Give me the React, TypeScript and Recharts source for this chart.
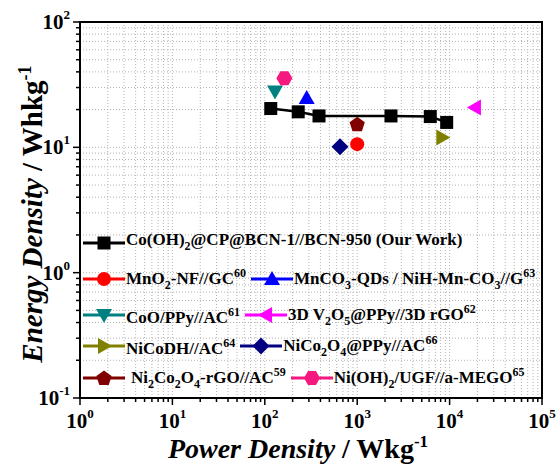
import React from 'react';
import { ScatterChart, Scatter, XAxis, YAxis, CartesianGrid, ReferenceArea, Legend } from 'recharts';

// ---------- data ----------
const ourPower = [116, 230, 386, 2320, 6180, 9300];
const ourEnergy = [20.4, 19.2, 17.8, 17.8, 17.6, 15.8];

const mno2Power = [1000];
const mno2Energy = [10.6];
const mnco3Power = [284];
const mnco3Energy = [24.8];
const cooPower = [129];
const cooEnergy = [27.9];
const v2o5Power = [18800];
const v2o5Energy = [20.8];
const nicodhPower = [8340];
const nicodhEnergy = [12];
const nico2o4Power = [651];
const nico2o4Energy = [10.1];
const ni2co2o4Power = [1000];
const ni2co2o4Energy = [15.3];
const niohPower = [163];
const niohEnergy = [35.6];

const seriesNames = [
  'Co(OH)_{2}@CP@BCN-1//BCN-950 (Our Work)',
  'MnO_{2}-NF//GC^{60}',
  'MnCO_{3}-QDs / NiH-Mn-CO_{3}//G^{63}',
  'CoO/PPy//AC^{61}',
  '3D V_{2}O_{5}@PPy//3D rGO^{62}',
  'NiCoDH//AC^{64}',
  'NiCo_{2}O_{4}@PPy//AC^{66}',
  ' Ni_{2}Co_{2}O_{4}-rGO//AC^{59}',
  'Ni(OH)_{2}/UGF//a-MEGO^{65}',
];
const seriesColors = ['#000000', '#ff0000', '#0000ff', '#008080', '#ff00ff', '#808000', '#000080', '#800000', '#f5197f'];
const seriesShapes = ['square', 'circle', 'up', 'down', 'left', 'right', 'diamond', 'pentagon', 'hexagon'];

const xTicks = [
  1, 2, 3, 4, 5, 6, 7, 8, 9,
  10, 20, 30, 40, 50, 60, 70, 80, 90,
  100, 200, 300, 400, 500, 600, 700, 800, 900,
  1000, 2000, 3000, 4000, 5000, 6000, 7000, 8000, 9000,
  10000, 20000, 30000, 40000, 50000, 60000, 70000, 80000, 90000,
  100000,
];
const yTicks = [
  0.1, 0.2, 0.3, 0.4, 0.5, 0.6, 0.7, 0.8, 0.9,
  1, 2, 3, 4, 5, 6, 7, 8, 9,
  10, 20, 30, 40, 50, 60, 70, 80, 90,
  100,
];

const zip = (xs: number[], ys: number[]) => xs.map((x, i) => ({ x, y: ys[i] }));
const seriesData = [
  zip(ourPower, ourEnergy),
  zip(mno2Power, mno2Energy),
  zip(mnco3Power, mnco3Energy),
  zip(cooPower, cooEnergy),
  zip(v2o5Power, v2o5Energy),
  zip(nicodhPower, nicodhEnergy),
  zip(nico2o4Power, nico2o4Energy),
  zip(ni2co2o4Power, ni2co2o4Energy),
  zip(niohPower, niohEnergy),
];

// ---------- helpers ----------
const FONT = '"Liberation Serif", "Times New Roman", serif';

function polygon(cx: number, cy: number, r: number, n: number, startDeg: number) {
  const pts: string[] = [];
  for (let k = 0; k < n; k++) {
    const a = ((startDeg + (360 / n) * k) * Math.PI) / 180;
    pts.push(`${cx + r * Math.cos(a)},${cy + r * Math.sin(a)}`);
  }
  return pts.join(' ');
}

function Marker({ shape, cx, cy, color }: { shape: string; cx: number; cy: number; color: string }) {
  if (cx == null || cy == null) return null;
  switch (shape) {
    case 'square':
      return <rect x={cx - 6.5} y={cy - 6.5} width={13} height={13} fill={color} />;
    case 'circle':
      return <circle cx={cx} cy={cy} r={7} fill={color} />;
    case 'up':
      return <polygon points={`${cx},${cy - 8} ${cx - 8},${cy + 6} ${cx + 8},${cy + 6}`} fill={color} />;
    case 'down':
      return <polygon points={`${cx},${cy + 8} ${cx - 8},${cy - 6} ${cx + 8},${cy - 6}`} fill={color} />;
    case 'left':
      return <polygon points={`${cx - 8},${cy} ${cx + 6},${cy - 8} ${cx + 6},${cy + 8}`} fill={color} />;
    case 'right':
      return <polygon points={`${cx + 8},${cy} ${cx - 6},${cy - 8} ${cx - 6},${cy + 8}`} fill={color} />;
    case 'diamond':
      return <polygon points={`${cx},${cy - 8.5} ${cx + 8.5},${cy} ${cx},${cy + 8.5} ${cx - 8.5},${cy}`} fill={color} />;
    case 'pentagon':
      return <polygon points={polygon(cx, cy + 0.5, 8, 5, -90)} fill={color} />;
    case 'hexagon':
      return <polygon points={polygon(cx, cy, 8, 6, 0)} fill={color} />;
    default:
      return null;
  }
}

function rich(s: string) {
  const parts = s.split(/(_\{[^}]*\}|\^\{[^}]*\})/).filter((p) => p !== '');
  return parts.map((p, i) => {
    if (p.startsWith('_{')) {
      return (
        <span key={i} style={{ fontSize: 12, verticalAlign: -5 }}>
          {p.slice(2, -1)}
        </span>
      );
    }
    if (p.startsWith('^{')) {
      return (
        <span key={i} style={{ fontSize: 12, verticalAlign: 7 }}>
          {p.slice(2, -1)}
        </span>
      );
    }
    return <span key={i}>{p}</span>;
  });
}

const isMajor = (v: number) => Math.abs(Math.log10(v) - Math.round(Math.log10(v))) < 1e-9;

function XTick(props: any) {
  const { x, y, payload } = props;
  const v = payload.value;
  const major = isMajor(v);
  const e = Math.round(Math.log10(v));
  return (
    <g>
      <line x1={x} y1={y} x2={x} y2={y + (major ? 7 : 4)} stroke="#000" strokeWidth={1.5} />
      {major && (
        <text x={x} y={y + 30} textAnchor="middle" fontFamily={FONT} fontWeight="bold" fontSize={21} fill="#000">
          10
          <tspan fontSize={13} dy={-10}>
            {e}
          </tspan>
        </text>
      )}
    </g>
  );
}

function YTick(props: any) {
  const { x, y, payload } = props;
  const v = payload.value;
  const major = isMajor(v);
  const e = Math.round(Math.log10(v));
  return (
    <g>
      <line x1={x - (major ? 7 : 4)} y1={y} x2={x} y2={y} stroke="#000" strokeWidth={1.5} />
      {major && (
        <text x={x - 10} y={y + 7} textAnchor="end" fontFamily={FONT} fontWeight="bold" fontSize={21} fill="#000">
          10
          <tspan fontSize={13} dy={-10}>
            {e}
          </tspan>
        </text>
      )}
    </g>
  );
}

function YTitle() {
  return (
    <text
      x={42}
      y={214}
      transform="rotate(-90, 42, 214)"
      textAnchor="middle"
      fontFamily={FONT}
      fontWeight="bold"
      fontSize={29}
      fill="#000"
    >
      <tspan fontStyle="italic">Energy Density</tspan>
      <tspan> / Whkg</tspan>
      <tspan fontSize={18} dy={-11}>
        -1
      </tspan>
    </text>
  );
}

function XTitle() {
  return (
    <text x={298} y={458} textAnchor="middle" fontFamily={FONT} fontWeight="bold" fontSize={28} fill="#000">
      <tspan fontStyle="italic">Power Density</tspan>
      <tspan> / Wkg</tspan>
      <tspan fontSize={17} dy={-11}>
        -1
      </tspan>
    </text>
  );
}

function LegendItem({ idx, extraLeft = 0 }: { idx: number; extraLeft?: number }) {
  return (
    <div style={{ display: 'flex', alignItems: 'center', marginRight: 5 }}>
      <svg width={42} height={20} style={{ display: 'block' }}>
        <line x1={0} y1={10} x2={42} y2={10} stroke={seriesColors[idx]} strokeWidth={3} />
        <Marker shape={seriesShapes[idx]} cx={21} cy={10} color={seriesColors[idx]} />
      </svg>
      <span
        style={{
          fontFamily: FONT,
          fontWeight: 'bold',
          fontSize: 17,
          color: '#000',
          marginLeft: 1 + extraLeft,
          whiteSpace: 'nowrap',
          lineHeight: '20px',
        }}
      >
        {rich(seriesNames[idx].trim())}
      </span>
    </div>
  );
}

const legendRows = [[0], [1, 2], [3, 4], [5, 6], [7, 8]];
const legendRowCenters = [12, 45, 81, 112, 144];

function LegendContent() {
  return (
    <div style={{ position: 'relative', width: 460, height: 165 }}>
      {legendRows.map((row, r) => (
        <div
          key={r}
          style={{ position: 'absolute', left: 3, top: legendRowCenters[r] - 10, display: 'flex', alignItems: 'center' }}
        >
          {row.map((idx) => (
            <LegendItem key={idx} idx={idx} extraLeft={seriesNames[idx].startsWith(' ') ? 5 : 0} />
          ))}
        </div>
      ))}
    </div>
  );
}

export default function App() {
  return (
    <div style={{ position: 'absolute', left: 0, top: 0, width: 556, height: 466, background: '#fff' }}>
      <ScatterChart width={556} height={466} margin={{ top: 22, right: 14, bottom: 0, left: 0 }}>
        <CartesianGrid stroke="#b4b4b4" strokeDasharray="1 2" strokeWidth={1} />
        <ReferenceArea
          x1={1}
          x2={100000}
          y1={0.1}
          y2={100}
          fill="none"
          stroke="#000"
          strokeWidth={2}
          fillOpacity={0}
          ifOverflow="visible"
        />
        <XAxis
          type="number"
          dataKey="x"
          scale="log"
          domain={[1, 100000]}
          allowDataOverflow
          ticks={xTicks}
          interval={0}
          tick={(p: any) => <XTick {...p} />}
          tickLine={false}
          tickSize={0}
          tickMargin={0}
          axisLine={{ stroke: '#000', strokeWidth: 2 }}
          height={68}
          label={<XTitle />}
        />
        <YAxis
          type="number"
          dataKey="y"
          scale="log"
          domain={[0.1, 100]}
          allowDataOverflow
          ticks={yTicks}
          interval={0}
          tick={(p: any) => <YTick {...p} />}
          tickLine={false}
          tickSize={0}
          tickMargin={0}
          axisLine={{ stroke: '#000', strokeWidth: 2 }}
          width={80}
          label={<YTitle />}
        />
        <Legend
          layout="horizontal"
          verticalAlign="middle"
          align="center"
          content={() => <LegendContent />}
          wrapperStyle={{ left: 80, top: 228, width: 460, height: 165 }}
        />
        {seriesData.map((d, i) => (
          <Scatter
            key={i}
            name={seriesNames[i]}
            data={d}
            fill={seriesColors[i]}
            isAnimationActive={false}
            line={i === 0 ? { stroke: '#000', strokeWidth: 2.5 } : false}
            shape={(p: any) => <Marker shape={seriesShapes[i]} cx={p.cx} cy={p.cy} color={seriesColors[i]} />}
          />
        ))}
      </ScatterChart>
    </div>
  );
}
